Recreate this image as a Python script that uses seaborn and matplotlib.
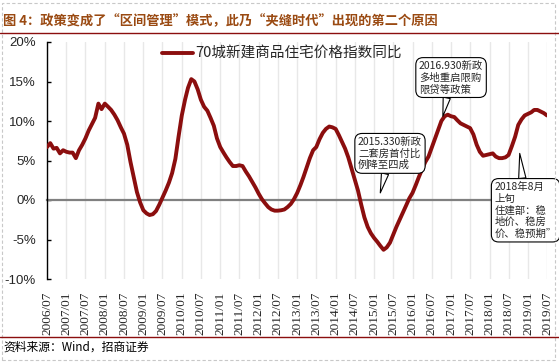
import numpy as np
import pandas as pd
import seaborn as sns
import matplotlib.pyplot as plt
from matplotlib.patches import Rectangle

# 70城新建商品住宅价格指数同比 (%), 月度, 2006/07 - 2019/07
yoy = [
    6.7, 7.2, 6.5, 6.6, 5.9, 6.3, 6.1, 6.0, 6.0, 5.3,
    6.3, 7.0, 7.8, 8.8, 9.6, 10.4, 12.2, 11.5, 12.2, 11.8,
    11.4, 10.8, 10.1, 9.2, 8.4, 7.0, 4.8, 2.9, 1.0, -0.3,
    -1.3, -1.7, -1.9, -1.8, -1.4, -0.6, 0.3, 1.2, 2.2, 3.4,
    5.2, 8.0, 10.7, 12.7, 14.2, 15.3, 15.0, 14.0, 12.7, 11.8,
    11.3, 10.4, 9.4, 7.8, 6.7, 6.0, 5.4, 4.8, 4.3, 4.3,
    4.4, 4.3, 3.6, 3.0, 2.3, 1.6, 0.8, 0.1, -0.4, -0.9,
    -1.2, -1.35, -1.35, -1.3, -1.2, -0.9, -0.5, 0.1, 0.9, 1.9,
    2.9, 4.1, 5.3, 6.3, 6.7, 7.7, 8.5, 9.0, 9.3, 9.2,
    9.0, 8.2, 7.4, 6.5, 5.4, 4.0, 2.6, 1.2, -0.6, -2.2,
    -3.4, -4.2, -4.8, -5.3, -5.8, -6.3, -6.0, -5.4, -4.4, -3.4,
    -2.5, -1.6, -0.7, 0.2, 0.9, 1.9, 2.9, 3.9, 4.8, 5.5,
    6.6, 7.7, 8.9, 10.0, 10.6, 10.8, 10.6, 10.5, 10.1, 9.7,
    9.5, 9.3, 9.1, 8.3, 7.0, 6.1, 5.6, 5.7, 5.8, 5.9,
    5.5, 5.3, 5.3, 5.4, 5.7, 6.8, 8.0, 9.5, 10.2, 10.7,
    10.9, 11.1, 11.4, 11.4, 11.2, 11.0, 10.7,
]
months = pd.date_range("2006-07-01", periods=len(yoy), freq="MS")
tick_dates = pd.date_range("2006-07-01", "2019-07-01", freq="6MS")
tick_labels = list(tick_dates.strftime("%Y/%m"))
y_ticks = [-10, -5, 0, 5, 10, 15, 20]
y_labels = [f"{v}%" for v in y_ticks]

series_name = "70城新建商品住宅价格指数同比"
title = "图 4：政策变成了“区间管理”模式，此乃“夹缝时代”出现的第二个原因"
source = "资料来源：Wind，招商证券"

# 标注: (文字, 指向的月份, 指向的值, 文本框中心月份, 文本框中心值)
notes = [
    ("2015.330新政\n二套房首付比\n例降至四成", "2015-03-01", 0.9, "2015-06-01", 5.9),
    ("2016.930新政\n多地重启限购\n限贷等政策", "2016-10-15", 10.6, "2017-01-01", 15.5),
    ("2018年8月\n上旬\n住建部：稳\n地价、稳房\n价、稳预期”", "2018-10-15", 5.9, "2018-12-10", -1.3),
]

sns.set_style("white")
plt.rcParams['font.family'] = ['Noto Sans CJK SC', 'DejaVu Sans']

red = '#8B0E0E'
W, H = 559, 362
fig = plt.figure(figsize=(W / 100, H / 100), dpi=100)
ax = fig.add_axes([47 / W, 1 - 279 / H, 500 / W, 237 / H])

df = pd.DataFrame({'月份': months, series_name: yoy})
sns.lineplot(data=df, x='月份', y=series_name, color=red, lw=2.8,
             label=series_name, ax=ax, zorder=3)

ax.set_xlim(months[0], months[-1])
ax.set_ylim(-10, 20)
ax.set_xlabel('')
ax.set_ylabel('')

# 0轴线 (带向上的刻度)
for s in ['top', 'right']:
    ax.spines[s].set_visible(False)
ax.spines['bottom'].set_position(('data', 0))
ax.spines['bottom'].set_color('#808080')
ax.spines['bottom'].set_linewidth(1.6)
ax.spines['bottom'].set_zorder(2)
ax.spines['left'].set_color('black')
ax.spines['left'].set_linewidth(1.0)
ax.set_xticks(tick_dates)
ax.set_xticklabels([])
ax.tick_params(axis='x', direction='in', length=3, width=1, color='#606060')
ax.grid(axis='x', color='#e8e8e8', lw=1)
ax.set_axisbelow(True)

ax.set_yticks(y_ticks)
ax.set_yticklabels(y_labels, family='Liberation Sans', fontsize=9.5)
ax.tick_params(axis='y', direction='in', length=3, width=1, color='black', pad=8, left=True)

# 底部日期标签
sec = ax.secondary_xaxis('bottom')
sec.set_xticks(tick_dates)
sec.set_xticklabels(tick_labels, rotation=90, family='Liberation Serif', fontsize=9.5)
sec.tick_params(length=0, pad=9)
sec.spines['bottom'].set_visible(False)

ax.legend(loc='center left', bbox_to_anchor=(162 / W, 1 - 54 / H),
          bbox_transform=fig.transFigure, frameon=False, borderpad=0,
          borderaxespad=0, handlelength=2.1, handletextpad=0.15,
          prop={'size': 10.5})

for text, tip_m, tip_v, box_m, box_v in notes:
    ax.annotate(text, xy=(pd.Timestamp(tip_m), tip_v), xytext=(pd.Timestamp(box_m), box_v),
                ha='center', va='center', multialignment='left', fontsize=7.5,
                linespacing=1.2, annotation_clip=False, zorder=5,
                bbox=dict(boxstyle='round,pad=0.3,rounding_size=0.7', fc='white', ec='black', lw=0.8),
                arrowprops=dict(arrowstyle='wedge,tail_width=0.7', fc='white', ec='black',
                                lw=0.8, shrinkA=0, shrinkB=0))

# 标题、来源与分隔线
fig.text(3 / W, 1 - 21.5 / H, title, fontsize=9.5, fontweight='bold',
         color='#9A4A12', ha='left', va='center')
fig.add_artist(plt.Line2D([0, 1], [1 - 32.5 / H] * 2, color=red, lw=1.0))
fig.add_artist(plt.Line2D([0, 1], [1 - 336.5 / H] * 2, color=red, lw=1.0))
fig.text(3 / W, 1 - 347 / H, source, fontsize=8.5, color='black', ha='left', va='center')
fig.add_artist(Rectangle((2 / W, 2 / H), 1 - 6 / W, 1 - 5 / H, transform=fig.transFigure,
                         fill=False, ec='#c8c8c8', lw=0.8, ls=(0, (3, 2))))

fig.savefig('out.png', dpi=100)
